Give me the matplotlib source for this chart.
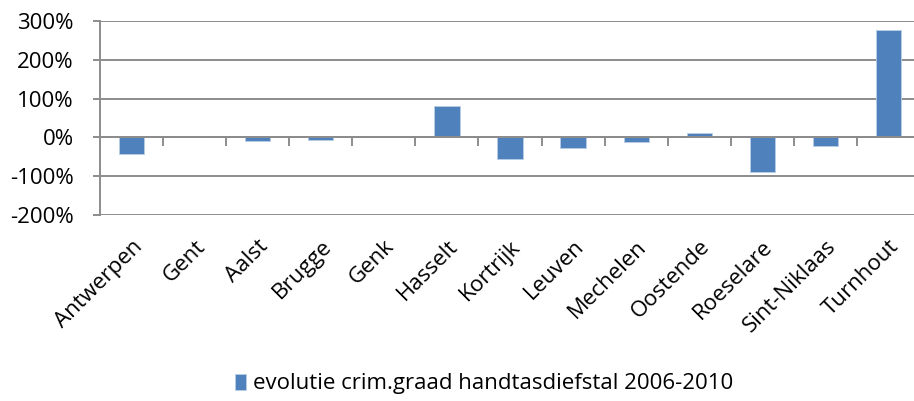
import matplotlib
matplotlib.use("Agg")
import matplotlib.pyplot as plt
from matplotlib.ticker import FuncFormatter, FixedLocator
import numpy as np

categories = ["Antwerpen", "Gent", "Aalst", "Brugge", "Genk", "Hasselt", "Kortrijk",
              "Leuven", "Mechelen", "Oostende", "Roeselare", "Sint-Niklaas", "Turnhout"]
values = [-0.42, 0.01, -0.10, -0.07, 0.0, 0.81, -0.55, -0.28, -0.11, 0.12, -0.88, -0.21, 2.76]
series_name = "evolutie crim.graad handtasdiefstal 2006-2010"
y_ticks = [-2, -1, 0, 1, 2, 3]

plt.rcParams['font.family'] = ['Open Sans', 'DejaVu Sans']
FS = 16
W, H = 914, 401
fig = plt.figure(figsize=(W / 100, H / 100), dpi=100)
left, right, top, bottom = 100, 920, 21, 215
ax = fig.add_axes([left / W, 1 - bottom / H, (right - left) / W, (bottom - top) / H])

x = np.arange(len(categories))
ax.bar(x, values, width=0.4, color="#4F81BD", edgecolor="#B9CDE5", linewidth=0.6,
       label=series_name, zorder=3)

ax.set_xlim(-0.5, len(categories) - 0.5)
ax.set_ylim(-2, 3)
ax.set_yticks(y_ticks)
ax.yaxis.set_major_formatter(FuncFormatter(lambda v, p: f"{v*100:.0f}%"))
ax.grid(axis='y', color="#8C8C8C", linewidth=1.4, zorder=0)
ax.set_axisbelow(True)

for s in ['top', 'right']:
    ax.spines[s].set_visible(False)
ax.spines['left'].set_color("#8C8C8C")
ax.spines['left'].set_linewidth(1.4)
ax.spines['bottom'].set_position(('data', 0))
ax.spines['bottom'].set_color("#8C8C8C")
ax.spines['bottom'].set_linewidth(1.4)
ax.spines['bottom'].set_zorder(4)

ax.tick_params(axis='y', length=5, width=1.4, color="#8C8C8C", labelsize=FS, pad=14,
               labelcolor="black")
ax.set_xticks(x)
ax.set_xticklabels(categories, rotation=45, ha='right', va='top', rotation_mode='anchor')
ax.xaxis.set_minor_locator(FixedLocator(np.arange(0.5, len(categories) - 0.5, 1)))
ax.tick_params(axis='x', which='major', length=0, pad=71, labelsize=FS)
ax.tick_params(axis='x', which='minor', length=6.5, width=1.4, color="#8C8C8C")

handles, labels = ax.get_legend_handles_labels()
fig.legend(handles, labels, loc='center', bbox_to_anchor=(484 / W, 1 - 384 / H),
           frameon=False, fontsize=FS, handlelength=0.5, handleheight=0.7,
           handletextpad=0.3)

fig.savefig("out.png", dpi=100)
